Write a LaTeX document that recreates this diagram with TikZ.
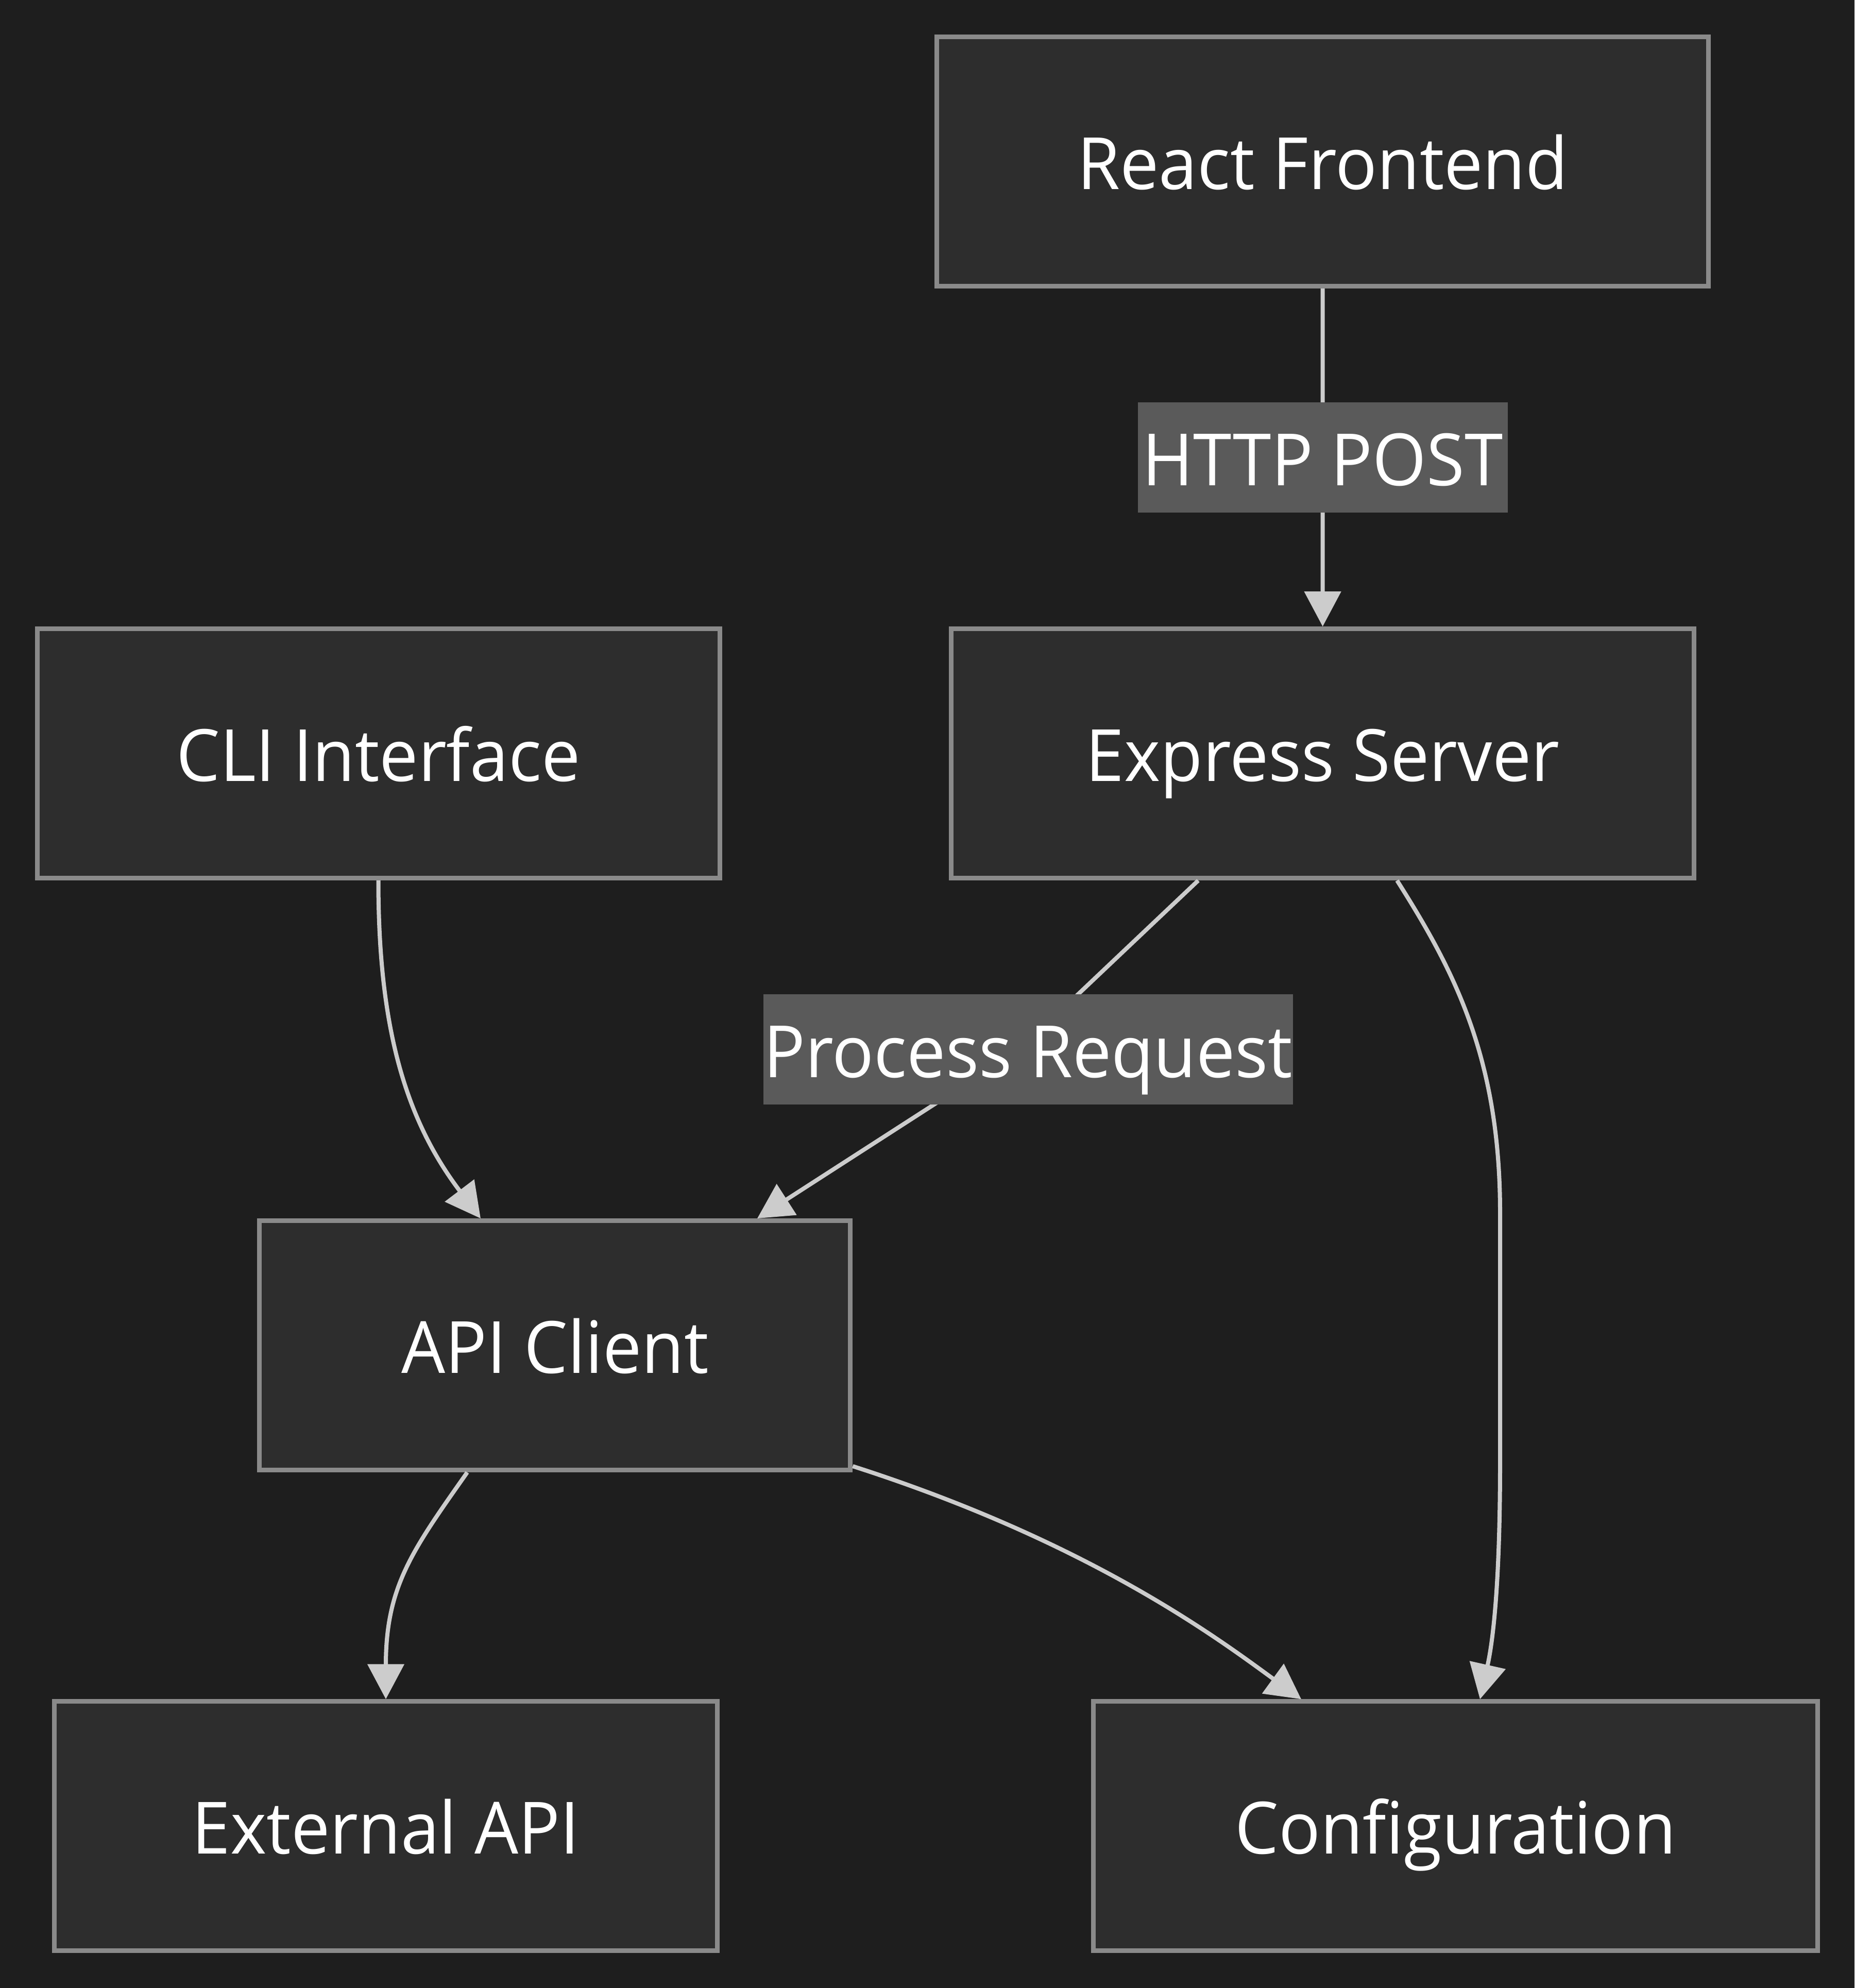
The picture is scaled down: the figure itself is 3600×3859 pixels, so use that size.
\documentclass[tikz,border=0pt]{standalone}
\usepackage{fontspec}
\setmainfont[FakeStretch=0.96]{Open Sans}
\usetikzlibrary{arrows.meta}
\definecolor{bgc}{HTML}{1E1E1E}
\definecolor{boxfill}{HTML}{2D2D2D}
\definecolor{boxline}{HTML}{8A8A8A}
\definecolor{lblfill}{HTML}{5A5A5A}
\definecolor{edgec}{HTML}{CCCCCC}
\begin{document}
\begin{tikzpicture}[x=1pt,y=-1pt,
  txt/.style={text=white, font=\fontsize{140}{168}\selectfont, text height=108pt, text depth=0pt},
  box/.style={txt, draw=boxline, fill=boxfill, line width=9pt, minimum height=484pt, inner sep=0pt},
  lbl/.style={txt, fill=lblfill, minimum height=214pt, inner sep=0pt},
  edge/.style={draw=edgec, line width=8pt, -{Triangle[length=68pt,width=70pt]}}
]
\fill[bgc] (0,0) rectangle (3600,3859);
\useasboundingbox (0,0) rectangle (3600,3859);

\node[box, minimum width=1498pt] (fe)  at (2567.5,313.6)  {React Frontend};
\node[box, minimum width=1442pt] (exp) at (2567.6,1462.7) {Express Server};
\node[box, minimum width=1325pt] (cli) at (734.5,1462.7)  {CLI Interface};
\node[box, minimum width=1147pt] (api) at (1077.4,2611.6) {API Client};
\node[box, minimum width=1287pt] (ext) at (749,3544.8)    {External API};
\node[box, minimum width=1406pt] (cfg) at (2825.4,3544.8) {Configuration};

\draw[edge] (fe.south) -- node[lbl, minimum width=718pt] (l1) {HTTP POST} (exp.north);
\draw[edge] (cli.south) .. controls (734.5,1990) and (785,2170) .. ([xshift=-144.4pt]api.north);
\draw[edge] ([xshift=-241.6pt]exp.south) -- (2040,1980) .. controls (1979,2037) .. (1900,2088) -- ([xshift=392.6pt]api.north);
\draw[edge] ([xshift=144.4pt]exp.south) .. controls (2820,1880) and (2912,2050) .. (2912,2354) -- (2912,2838) .. controls (2912,3100) and (2895,3200) .. ([xshift=47.6pt]cfg.north);
\draw[edge] ([xshift=-170.4pt]api.south) .. controls (800,3010) and (749,3080) .. (ext.north);
\draw[edge] ([yshift=12pt]api.south east) .. controls (2120,2995) and (2370,3185) .. ([xshift=-299.4pt]cfg.north);

\node[lbl, minimum width=1023pt] (l2) at (1996,2037) {Process Request};
\end{tikzpicture}
\end{document}
